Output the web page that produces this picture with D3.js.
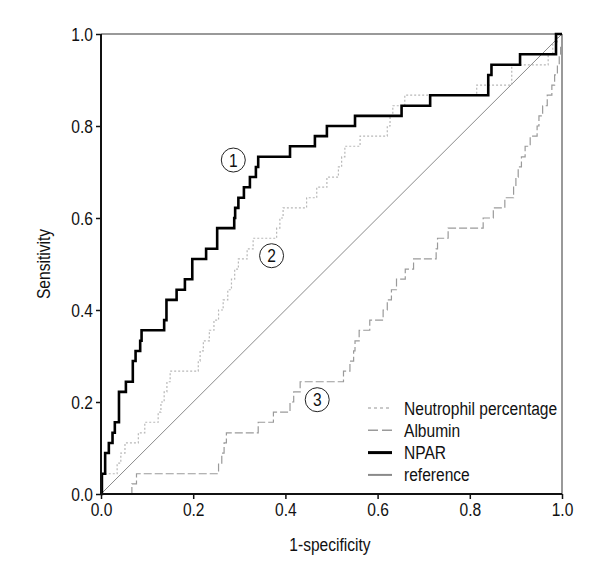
<!DOCTYPE html>
<html>
<head>
<meta charset="utf-8">
<script src="https://cdn.jsdelivr.net/npm/d3@7"></script>
<style>
  html, body { margin: 0; padding: 0; background: #fff; }
  svg { display: block; }
  text { font-family: "Liberation Sans", Arial, sans-serif; fill: #111; }
</style>
</head>
<body>
<svg id="chart" width="600" height="580"></svg>
<script>
// ROC curve vertices [1-specificity, sensitivity]
const nparPoints = [
  [0,0],[0.002,0.044],[0.009,0.089],[0.017,0.111],[0.025,0.133],[0.030,0.156],
  [0.039,0.222],[0.054,0.244],[0.069,0.289],[0.075,0.311],[0.085,0.333],[0.088,0.356],
  [0.137,0.378],[0.142,0.422],[0.164,0.444],[0.182,0.467],[0.198,0.511],[0.228,0.533],
  [0.252,0.578],[0.289,0.600],[0.291,0.622],[0.298,0.644],[0.310,0.667],[0.323,0.689],
  [0.336,0.711],[0.341,0.733],[0.410,0.756],[0.464,0.778],[0.490,0.800],[0.551,0.822],
  [0.652,0.844],[0.714,0.867],[0.840,0.911],[0.847,0.933],[0.909,0.956],[0.987,1.000],[1,1]
];
const neutrophilPoints = [
  [0,0],[0.001,0.044],[0.035,0.067],[0.043,0.089],[0.052,0.111],[0.081,0.133],[0.095,0.156],
  [0.124,0.178],[0.130,0.200],[0.137,0.222],[0.143,0.244],[0.150,0.267],[0.211,0.289],
  [0.215,0.311],[0.222,0.333],[0.235,0.356],[0.245,0.378],[0.255,0.400],[0.265,0.422],
  [0.275,0.444],[0.283,0.467],[0.290,0.489],[0.298,0.511],[0.317,0.533],[0.330,0.556],
  [0.381,0.578],[0.388,0.600],[0.395,0.622],[0.446,0.644],[0.468,0.667],[0.490,0.689],
  [0.515,0.711],[0.522,0.733],[0.529,0.756],[0.562,0.778],[0.621,0.800],[0.627,0.822],
  [0.633,0.844],[0.659,0.867],[0.815,0.889],[0.891,0.933],[0.970,0.956],[0.980,0.978],
  [0.990,1.000],[1,1]
];
const albuminPoints = [
  [0.065,0],[0.067,0.022],[0.077,0.044],[0.255,0.067],[0.262,0.089],[0.267,0.111],[0.272,0.133],
  [0.341,0.156],[0.374,0.178],[0.410,0.200],[0.418,0.222],[0.432,0.244],[0.526,0.267],
  [0.540,0.289],[0.548,0.311],[0.551,0.333],[0.560,0.356],[0.583,0.378],[0.612,0.400],
  [0.621,0.422],[0.630,0.444],[0.641,0.467],[0.660,0.489],[0.678,0.511],[0.727,0.533],
  [0.730,0.556],[0.753,0.578],[0.829,0.600],[0.851,0.622],[0.876,0.644],[0.895,0.667],
  [0.900,0.689],[0.905,0.711],[0.912,0.733],[0.920,0.756],[0.931,0.778],[0.946,0.800],
  [0.950,0.822],[0.958,0.844],[0.968,0.867],[0.978,0.889],[0.984,0.911],[0.990,0.933],
  [0.994,0.956],[0.997,0.978],[1,1]
];
const referencePoints = [[0,0],[1,1]];
const tickValues = [0, 0.2, 0.4, 0.6, 0.8, 1.0];
const legendLabels = ["Neutrophil percentage", "Albumin", "NPAR", "reference"];
const annotationLabels = ["1", "2", "3"];
const annotationAt = [[0.287, 0.726], [0.370, 0.518], [0.469, 0.205]];

const SX = 0.82; // horizontal condensing of the text face
const FS = 19;

const svg = d3.select("#chart");
const x = d3.scaleLinear().domain([0, 1]).range([101, 562]);
const y = d3.scaleLinear().domain([0, 1]).range([494, 34]);

function ctext(px, py, str, anchor, rotate) {
  return svg.append("text")
    .attr("transform", `translate(${px},${py})${rotate ? ` rotate(${rotate})` : ""} scale(${SX},1)`)
    .attr("text-anchor", anchor || "start")
    .attr("font-size", FS)
    .text(str);
}

// frame top/right
svg.append("line").attr("x1", x(0)).attr("x2", x(1)).attr("y1", y(1)).attr("y2", y(1))
  .attr("stroke", "#777").attr("stroke-width", 1.5);
svg.append("line").attr("x1", x(1)).attr("x2", x(1)).attr("y1", y(0)).attr("y2", y(1))
  .attr("stroke", "#777").attr("stroke-width", 1.5);

const styles = {
  "Neutrophil percentage": { color: "#b8b8b8", width: 1.2, dash: "2,2" },
  "Albumin": { color: "#9a9a9a", width: 1.2, dash: "8,3" },
  "NPAR": { color: "#000", width: 2.6, dash: null },
  "reference": { color: "#8a8a8a", width: 1, dash: null }
};

const stepLine = d3.line().x(d => x(d[0])).y(d => y(d[1])).curve(d3.curveStepAfter);
const straight = d3.line().x(d => x(d[0])).y(d => y(d[1]));

function draw(points, name, gen) {
  const s = styles[name];
  const p = svg.append("path").datum(points).attr("d", gen)
    .attr("fill", "none").attr("stroke", s.color).attr("stroke-width", s.width);
  if (s.dash) p.attr("stroke-dasharray", s.dash);
}
draw(referencePoints, "reference", straight);
draw(albuminPoints, "Albumin", stepLine);
draw(neutrophilPoints, "Neutrophil percentage", stepLine);
draw(nparPoints, "NPAR", stepLine);

// axes
const fmt = d3.format(".1f");
const xAxis = svg.append("g").attr("transform", `translate(0,${y(0)})`)
  .call(d3.axisBottom(x).tickValues(tickValues).tickFormat(fmt).tickSize(5).tickPadding(4));
const yAxis = svg.append("g").attr("transform", `translate(${x(0)},0)`)
  .call(d3.axisLeft(y).tickValues(tickValues).tickFormat(fmt).tickSize(5).tickPadding(3));
[xAxis, yAxis].forEach(g => {
  g.select(".domain").attr("stroke", "#111").attr("stroke-width", 2);
  g.selectAll(".tick line").attr("stroke", "#111").attr("stroke-width", 1.5);
  g.selectAll(".tick text").attr("font-size", FS).attr("fill", "#111")
    .style("font-family", '"Liberation Sans", Arial, sans-serif')
    .each(function () {
      const t = d3.select(this);
      const tx = +t.attr("x") || 0;
      t.attr("x", tx / SX).attr("transform", `scale(${SX},1)`);
    });
});
xAxis.select(".domain").attr("d", `M${x(0)},0H${x(1)}`);
yAxis.select(".domain").attr("d", `M0,${y(0)}V${y(1)}`);

// axis titles
ctext(330, 551, "1-specificity", "middle");
ctext(50, 264, "Sensitivity", "middle", -90);

// circled annotations
annotationLabels.forEach((lab, i) => {
  const cx = x(annotationAt[i][0]), cy = y(annotationAt[i][1]);
  svg.append("circle").attr("cx", cx).attr("cy", cy).attr("r", 12)
    .attr("fill", "#fff").attr("stroke", "#222").attr("stroke-width", 1);
  ctext(cx, cy + 6.5, lab, "middle");
});

// legend
legendLabels.forEach((lab, i) => {
  const s = styles[lab];
  const ly = 408 + i * 22.3;
  const ln = svg.append("line").attr("x1", 368).attr("x2", 392).attr("y1", ly).attr("y2", ly)
    .attr("stroke", s.color).attr("stroke-width", lab === "NPAR" ? 3 : (lab === "reference" ? 2 : 1.5));
  if (s.dash) ln.attr("stroke-dasharray", lab === "Albumin" ? "10,4" : "3,3");
  ctext(404, ly + 6.5, lab, "start");
});
</script>
</body>
</html>
